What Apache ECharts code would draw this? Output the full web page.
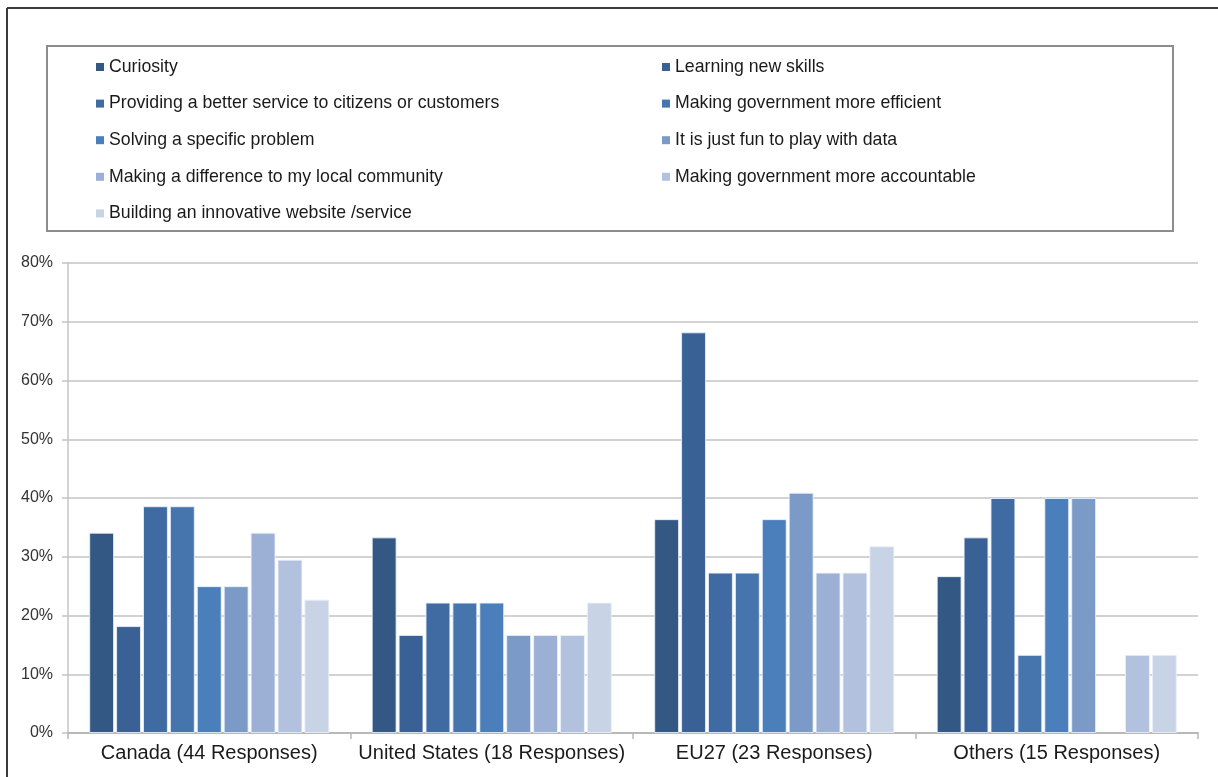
<!DOCTYPE html>
<html>
<head>
<meta charset="utf-8">
<title>Motivations for using open data by region</title>
<script src="https://cdn.jsdelivr.net/npm/echarts@6/dist/echarts.min.js"></script>
<style>
  html, body { margin: 0; padding: 0; background: #ffffff; }
  #chart { width: 1218px; height: 777px; }
</style>
</head>
<body>
<div id="chart"></div>
<script>
// Regions surveyed (x-axis categories)
const regions = [
  'Canada (44 Responses)',
  'United States (18 Responses)',
  'EU27 (23 Responses)',
  'Others (15 Responses)'
];

// Share of respondents (%) citing each motivation, per region
const curiosity      = [34.1, 33.3, 36.4, 26.7];
const learningSkills = [18.2, 16.7, 68.2, 33.3];
const betterService  = [38.6, 22.2, 27.3, 40.0];
const govEfficient   = [38.6, 22.2, 27.3, 13.3];
const specificProb   = [25.0, 22.2, 36.4, 40.0];
const funWithData    = [25.0, 16.7, 40.9, 40.0];
const localCommunity = [34.1, 16.7, 27.3, null];
const govAccountable = [29.5, 16.7, 27.3, 13.3];
const innovativeSite = [22.7, 22.2, 31.8, 13.3];

// Y-axis ticks
const yMin = 0, yMax = 80, yStep = 10;

const seriesDefs = [
  { name: 'Curiosity', data: curiosity, color: '#345884' },
  { name: 'Learning new skills', data: learningSkills, color: '#3a6195' },
  { name: 'Providing a better service to citizens or customers', data: betterService, color: '#3f6ba2' },
  { name: 'Making government more efficient', data: govEfficient, color: '#4675ae' },
  { name: 'Solving a specific problem', data: specificProb, color: '#4a7fbc' },
  { name: 'It is just fun to play with data', data: funWithData, color: '#7b9ac8' },
  { name: 'Making a difference to my local community', data: localCommunity, color: '#9bb0d4' },
  { name: 'Making government more accountable', data: govAccountable, color: '#b1c1de' },
  { name: 'Building an innovative website /service', data: innovativeSite, color: '#c8d3e6' }
];

const chart = echarts.init(document.getElementById('chart'), null, { renderer: 'canvas' });

const fontFamily = '"Liberation Sans", Arial, sans-serif';

const legendCommon = {
  orient: 'vertical',
  top: 57,
  padding: 0,
  itemWidth: 8,
  itemHeight: 8,
  itemGap: 16.6,
  icon: 'rect',
  selectedMode: false,
  itemStyle: { borderWidth: 0 },
  textStyle: { fontFamily, fontSize: 17.7, color: '#1a1a1a', lineHeight: 20 }
};

chart.setOption({
  animation: false,
  color: seriesDefs.map(s => s.color),
  graphic: [
    // outer frame (top and left edges)
    { type: 'line', shape: { x1: 7, y1: 8, x2: 1218, y2: 8 }, style: { stroke: '#3a3a3a', lineWidth: 2 }, silent: true },
    { type: 'line', shape: { x1: 7, y1: 8, x2: 7, y2: 777 }, style: { stroke: '#3a3a3a', lineWidth: 2 }, silent: true },
    // legend box
    { type: 'rect', shape: { x: 47, y: 46, width: 1126, height: 185 }, style: { fill: 'none', stroke: '#8c8c8c', lineWidth: 2 }, silent: true }
  ],
  legend: [
    Object.assign({}, legendCommon, {
      left: 96,
      data: [seriesDefs[0].name, seriesDefs[2].name, seriesDefs[4].name, seriesDefs[6].name, seriesDefs[8].name]
    }),
    Object.assign({}, legendCommon, {
      left: 662,
      data: [seriesDefs[1].name, seriesDefs[3].name, seriesDefs[5].name, seriesDefs[7].name]
    })
  ],
  grid: { left: 68, right: 20, top: 263, bottom: 44, containLabel: false },
  xAxis: {
    type: 'category',
    data: regions,
    axisLine: { show: true, lineStyle: { color: '#b8b8b8', width: 2 } },
    axisTick: { show: true, interval: 0, length: 6, lineStyle: { color: '#b8b8b8', width: 1.5 } },
    axisLabel: { interval: 0, fontFamily, fontSize: 20, color: '#1a1a1a', margin: 10 }
  },
  yAxis: {
    type: 'value',
    min: yMin,
    max: yMax,
    interval: yStep,
    axisLine: { show: true, lineStyle: { color: '#c4c4c4', width: 1.5 } },
    axisTick: { show: true, length: 6, lineStyle: { color: '#c4c4c4', width: 1.5 } },
    axisLabel: { fontFamily, fontSize: 16, color: '#333333', margin: 15, formatter: '{value}%' },
    splitLine: { show: true, lineStyle: { color: '#d2d2d2', width: 2 } }
  },
  series: seriesDefs.map(s => ({
    name: s.name,
    type: 'bar',
    data: s.data,
    barGap: '8%',
    barCategoryGap: '15%',
    itemStyle: { color: s.color, borderColor: 'rgba(235,241,250,0.85)', borderWidth: 1 }
  }))
});
</script>
</body>
</html>
